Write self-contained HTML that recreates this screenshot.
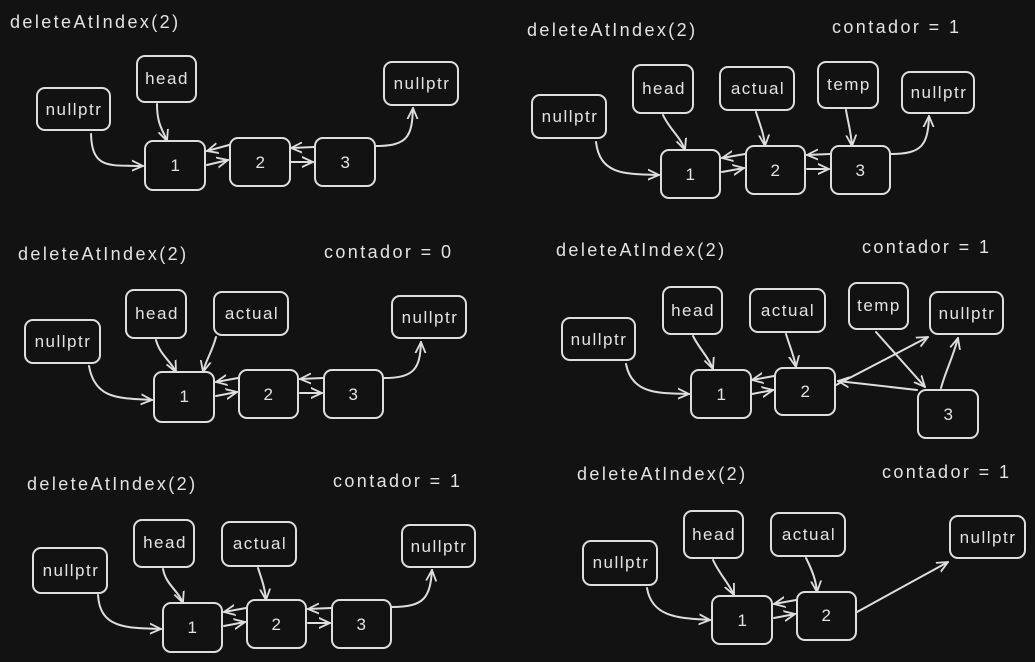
<!DOCTYPE html>
<html><head><meta charset="utf-8"><style>
html,body{margin:0;padding:0;background:#121212;}
svg{display:block}
text{font-family:"Liberation Sans",sans-serif;fill:#e3e3e3;font-size:17px;letter-spacing:1.5px}
.t{font-size:18px;letter-spacing:2.4px}
rect{fill:#121212;stroke:#dedede;stroke-width:2}
path{fill:none;stroke:#dedede;stroke-width:2;stroke-linecap:round}
</style></head><body>
<svg width="1035" height="662" viewBox="0 0 1035 662" xmlns="http://www.w3.org/2000/svg">
<defs>
<marker id="a" viewBox="0 0 12 12" refX="11" refY="6" markerWidth="12" markerHeight="12" markerUnits="userSpaceOnUse" orient="auto">
<path d="M0,1 L11,6 L0,11" style="stroke-width:1.8"/>
</marker>
</defs>

<!-- Panel 1 -->
<text class="t" x="10" y="28">deleteAtIndex(2)</text>
<rect x="37" y="88" width="73" height="42" rx="8"/><text x="74" y="115" text-anchor="middle">nullptr</text>
<rect x="137" y="56" width="59" height="46" rx="8"/><text x="167" y="84" text-anchor="middle">head</text>
<rect x="384" y="62" width="74" height="43" rx="8"/><text x="422" y="89" text-anchor="middle">nullptr</text>
<rect x="145" y="141" width="60" height="49" rx="8"/><text x="176" y="171" text-anchor="middle">1</text>
<rect x="230" y="138" width="60" height="48" rx="8"/><text x="261" y="168" text-anchor="middle">2</text>
<rect x="315" y="138" width="60" height="48" rx="8"/><text x="346" y="168" text-anchor="middle">3</text>
<path d="M91,134 C92,170 110,165 143,166" marker-end="url(#a)"/>
<path d="M157,104 C157,125 163,130 167,141" marker-end="url(#a)"/>
<path d="M229,145 L207,151" marker-end="url(#a)"/>
<path d="M207,165 L228,160" marker-end="url(#a)"/>
<path d="M314,147 L291,148" marker-end="url(#a)"/>
<path d="M291,162 L313,162" marker-end="url(#a)"/>
<path d="M376,146 C408,146 412,136 413,108" marker-end="url(#a)"/>

<!-- Panel 2 -->
<text class="t" x="18" y="260">deleteAtIndex(2)</text>
<text class="t" x="324" y="258">contador = 0</text>
<rect x="25" y="320" width="75" height="43" rx="8"/><text x="63" y="347" text-anchor="middle">nullptr</text>
<rect x="126" y="290" width="60" height="48" rx="8"/><text x="157" y="319" text-anchor="middle">head</text>
<rect x="214" y="292" width="74" height="43" rx="8"/><text x="252" y="319" text-anchor="middle">actual</text>
<rect x="392" y="296" width="74" height="42" rx="8"/><text x="430" y="323" text-anchor="middle">nullptr</text>
<rect x="154" y="372" width="60" height="50" rx="8"/><text x="185" y="402" text-anchor="middle">1</text>
<rect x="239" y="370" width="59" height="48" rx="8"/><text x="269" y="400" text-anchor="middle">2</text>
<rect x="324" y="370" width="59" height="48" rx="8"/><text x="354" y="400" text-anchor="middle">3</text>
<path d="M89,366 C95,400 120,398 152,400" marker-end="url(#a)"/>
<path d="M156,340 C160,355 170,360 176,372" marker-end="url(#a)"/>
<path d="M216,337 C212,352 206,360 203,372" marker-end="url(#a)"/>
<path d="M238,378 L216,382" marker-end="url(#a)"/>
<path d="M216,396 L237,392" marker-end="url(#a)"/>
<path d="M323,378 L300,379" marker-end="url(#a)"/>
<path d="M300,393 L322,393" marker-end="url(#a)"/>
<path d="M384,378 C415,378 420,368 421,342" marker-end="url(#a)"/>

<!-- Panel 3 -->
<text class="t" x="27" y="490">deleteAtIndex(2)</text>
<text class="t" x="333" y="487">contador = 1</text>
<rect x="33" y="548" width="74" height="45" rx="8"/><text x="71" y="576" text-anchor="middle">nullptr</text>
<rect x="134" y="520" width="60" height="47" rx="8"/><text x="165" y="548" text-anchor="middle">head</text>
<rect x="222" y="522" width="74" height="44" rx="8"/><text x="260" y="549" text-anchor="middle">actual</text>
<rect x="402" y="525" width="73" height="42" rx="8"/><text x="439" y="552" text-anchor="middle">nullptr</text>
<rect x="163" y="603" width="59" height="49" rx="8"/><text x="193" y="633" text-anchor="middle">1</text>
<rect x="247" y="600" width="59" height="48" rx="8"/><text x="277" y="630" text-anchor="middle">2</text>
<rect x="332" y="600" width="59" height="48" rx="8"/><text x="362" y="630" text-anchor="middle">3</text>
<path d="M98,595 C100,628 125,628 161,629" marker-end="url(#a)"/>
<path d="M163,569 C166,585 178,590 183,603" marker-end="url(#a)"/>
<path d="M258,568 C262,580 265,588 266,600" marker-end="url(#a)"/>
<path d="M246,608 L224,612" marker-end="url(#a)"/>
<path d="M224,626 L245,622" marker-end="url(#a)"/>
<path d="M331,608 L308,609" marker-end="url(#a)"/>
<path d="M308,623 L330,623" marker-end="url(#a)"/>
<path d="M392,607 C425,607 430,597 432,570" marker-end="url(#a)"/>

<!-- Panel 4 -->
<text class="t" x="527" y="36">deleteAtIndex(2)</text>
<text class="t" x="832" y="33">contador = 1</text>
<rect x="532" y="95" width="74" height="43" rx="8"/><text x="570" y="122" text-anchor="middle">nullptr</text>
<rect x="633" y="65" width="60" height="48" rx="8"/><text x="664" y="94" text-anchor="middle">head</text>
<rect x="720" y="67" width="74" height="43" rx="8"/><text x="758" y="94" text-anchor="middle">actual</text>
<rect x="818" y="62" width="60" height="46" rx="8"/><text x="849" y="90" text-anchor="middle">temp</text>
<rect x="902" y="72" width="72" height="41" rx="8"/><text x="939" y="98" text-anchor="middle">nullptr</text>
<rect x="661" y="150" width="59" height="48" rx="8"/><text x="691" y="180" text-anchor="middle">1</text>
<rect x="746" y="146" width="59" height="48" rx="8"/><text x="776" y="176" text-anchor="middle">2</text>
<rect x="831" y="146" width="59" height="48" rx="8"/><text x="861" y="176" text-anchor="middle">3</text>
<path d="M596,142 C600,175 625,174 659,175" marker-end="url(#a)"/>
<path d="M663,115 C670,130 680,136 685,150" marker-end="url(#a)"/>
<path d="M756,112 C760,125 764,134 765,146" marker-end="url(#a)"/>
<path d="M846,110 C848,122 851,132 852,146" marker-end="url(#a)"/>
<path d="M745,154 L722,158" marker-end="url(#a)"/>
<path d="M722,172 L744,168" marker-end="url(#a)"/>
<path d="M830,154 L807,155" marker-end="url(#a)"/>
<path d="M807,169 L829,169" marker-end="url(#a)"/>
<path d="M891,154 C922,154 928,145 929,116" marker-end="url(#a)"/>

<!-- Panel 5 -->
<text class="t" x="556" y="256">deleteAtIndex(2)</text>
<text class="t" x="862" y="253">contador = 1</text>
<rect x="562" y="318" width="73" height="42" rx="8"/><text x="599" y="345" text-anchor="middle">nullptr</text>
<rect x="663" y="287" width="59" height="47" rx="8"/><text x="693" y="316" text-anchor="middle">head</text>
<rect x="750" y="289" width="75" height="43" rx="8"/><text x="788" y="316" text-anchor="middle">actual</text>
<rect x="849" y="283" width="59" height="46" rx="8"/><text x="879" y="311" text-anchor="middle">temp</text>
<rect x="930" y="292" width="73" height="42" rx="8"/><text x="967" y="319" text-anchor="middle">nullptr</text>
<rect x="691" y="370" width="60" height="48" rx="8"/><text x="722" y="400" text-anchor="middle">1</text>
<rect x="775" y="368" width="60" height="47" rx="8"/><text x="806" y="397" text-anchor="middle">2</text>
<rect x="918" y="390" width="60" height="48" rx="8"/><text x="949" y="420" text-anchor="middle">3</text>
<path d="M626,364 C632,395 660,393 689,394" marker-end="url(#a)"/>
<path d="M693,336 C700,350 708,356 713,369" marker-end="url(#a)"/>
<path d="M786,334 C790,347 794,356 796,367" marker-end="url(#a)"/>
<path d="M774,376 L752,380" marker-end="url(#a)"/>
<path d="M752,394 L773,390" marker-end="url(#a)"/>
<path d="M836,385 L928,337" marker-end="url(#a)"/>
<path d="M917,390 L838,381" marker-end="url(#a)"/>
<path d="M876,332 L925,387" marker-end="url(#a)"/>
<path d="M941,388 C946,370 952,360 958,338" marker-end="url(#a)"/>

<!-- Panel 6 -->
<text class="t" x="577" y="480">deleteAtIndex(2)</text>
<text class="t" x="882" y="478">contador = 1</text>
<rect x="583" y="541" width="74" height="44" rx="8"/><text x="621" y="568" text-anchor="middle">nullptr</text>
<rect x="684" y="511" width="59" height="47" rx="8"/><text x="714" y="540" text-anchor="middle">head</text>
<rect x="771" y="513" width="74" height="43" rx="8"/><text x="809" y="540" text-anchor="middle">actual</text>
<rect x="950" y="516" width="75" height="42" rx="8"/><text x="988" y="543" text-anchor="middle">nullptr</text>
<rect x="712" y="596" width="60" height="48" rx="8"/><text x="743" y="626" text-anchor="middle">1</text>
<rect x="797" y="592" width="59" height="48" rx="8"/><text x="827" y="621" text-anchor="middle">2</text>
<path d="M647,588 C652,618 680,618 710,620" marker-end="url(#a)"/>
<path d="M713,560 C720,575 728,582 734,595" marker-end="url(#a)"/>
<path d="M806,558 C812,570 816,580 817,592" marker-end="url(#a)"/>
<path d="M796,600 L774,604" marker-end="url(#a)"/>
<path d="M774,618 L795,614" marker-end="url(#a)"/>
<path d="M857,612 L948,562" marker-end="url(#a)"/>
</svg>
</body></html>
